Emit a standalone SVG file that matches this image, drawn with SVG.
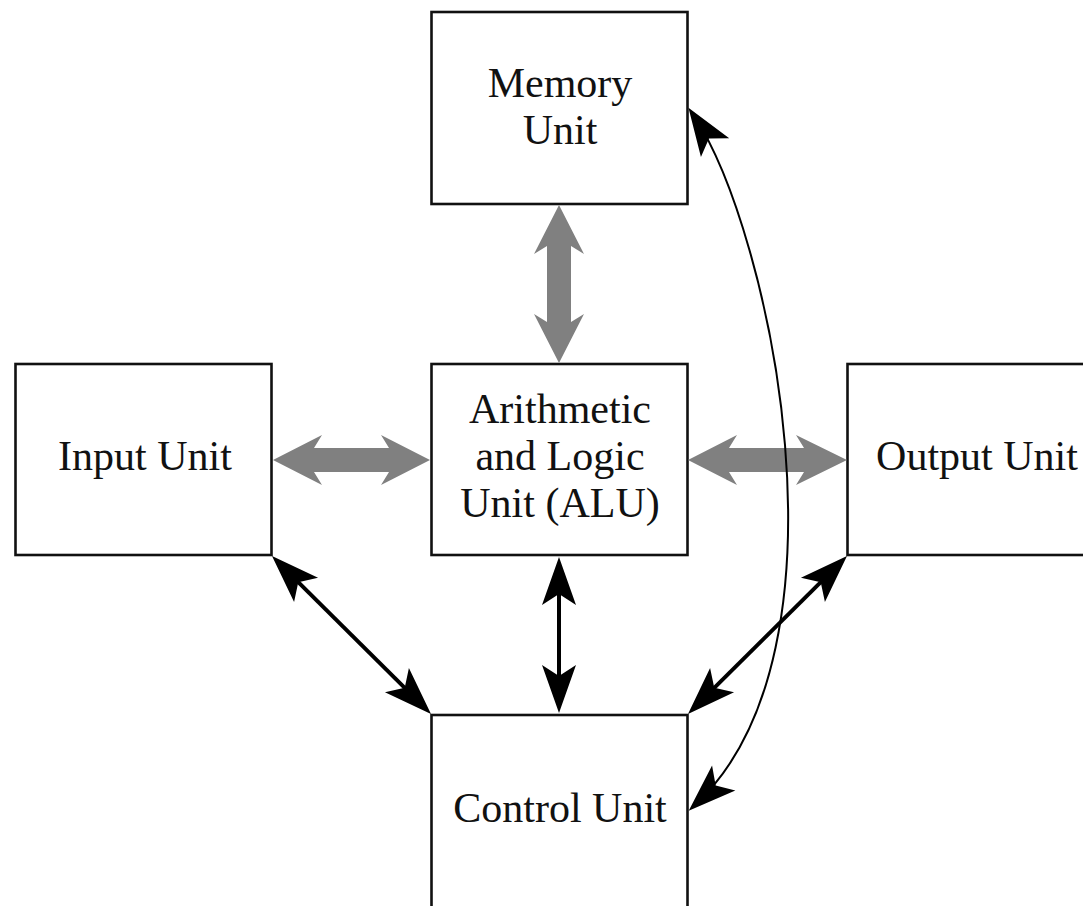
<svg xmlns="http://www.w3.org/2000/svg" width="1083" height="906" viewBox="0 0 1083 906">
<style>
.box{fill:#fff;stroke:#111;stroke-width:2.6}
.lbl{font-family:"Liberation Serif","Times New Roman",serif;font-size:42px;fill:#111;text-anchor:middle}
.gray{fill:#808080;stroke:none}
.blk{fill:none;stroke:#000;stroke-width:4}
.thin{fill:none;stroke:#000;stroke-width:2}
</style>
<defs>
<marker id="ah" markerUnits="userSpaceOnUse" orient="auto-start-reverse" refX="0" refY="0" markerWidth="60" markerHeight="40" overflow="visible">
<path d="M10,0 L-38,-17 L-27,0 L-38,17 Z" fill="#000"/>
</marker>
</defs>
<rect width="1083" height="906" fill="#fff"/>
<g id="memory"><rect class="box" x="431.5" y="12" width="256" height="192"/><text class="lbl" x="560" y="97">Memory</text><text class="lbl" x="560" y="144">Unit</text></g>
<g id="input"><rect class="box" x="15.5" y="364" width="256" height="191"/><text class="lbl" x="145" y="470">Input Unit</text></g>
<g id="alu"><rect class="box" x="431.5" y="364" width="256" height="191"/><text class="lbl" x="560" y="423">Arithmetic</text><text class="lbl" x="560" y="470">and Logic</text><text class="lbl" x="560" y="517">Unit (ALU)</text></g>
<g id="output"><rect class="box" x="847.5" y="364" width="300" height="191"/><text class="lbl" x="977" y="470">Output Unit</text></g>
<g id="control"><rect class="box" x="431.5" y="715" width="256" height="250"/><text class="lbl" x="560" y="822">Control Unit</text></g>
<g id="connectors">
<polygon class="gray" points="273,460 322,435 314,448 389,448 381,435 430,460 381,485 389,472 314,472 322,485"/>
<polygon class="gray" points="688,460 737,435 729,448 804,448 796,435 847,460 796,485 804,472 729,472 737,485"/>
<polygon class="gray" points="559,205 584,254 571,246 571,322 584,314 559,363 534,314 547,322 547,246 534,254"/>
<line class="blk" x1="279.1" y1="563.1" x2="423.9" y2="706.9" marker-start="url(#ah)" marker-end="url(#ah)"/>
<line class="blk" x1="559" y1="567" x2="559" y2="703" marker-start="url(#ah)" marker-end="url(#ah)"/>
<line class="blk" x1="839.9" y1="563.1" x2="695.1" y2="706.9" marker-start="url(#ah)" marker-end="url(#ah)"/>
<path class="thin" d="M694,116 C770,230 860,650 696,804" marker-start="url(#ah)" marker-end="url(#ah)"/>
</g>
</svg>
